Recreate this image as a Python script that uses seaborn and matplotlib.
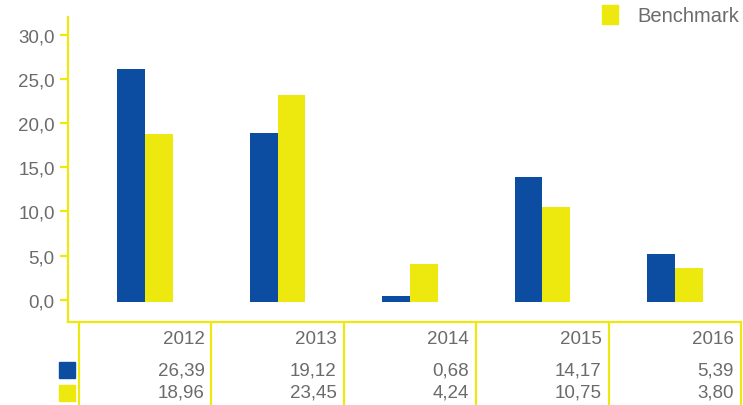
import numpy as np
import pandas as pd
import matplotlib
matplotlib.use("Agg")
import matplotlib.pyplot as plt
import matplotlib.patches as mpatches
import matplotlib.transforms as mtransforms
from matplotlib.ticker import FuncFormatter
import seaborn as sns

# Data
years = ["2012", "2013", "2014", "2015", "2016"]
fund = [26.39, 19.12, 0.68, 14.17, 5.39]
benchmark = [18.96, 23.45, 4.24, 10.75, 3.80]
seriesNames = ["Fondo", "Benchmark"]
yTicks = [0, 5, 10, 15, 20, 25, 30]

BLUE = "#0c4da2"
YELLOW = "#ede80e"
GRAY = "#6b6b6b"
FS = 13.5

sns.set_style("white")
plt.rcParams["font.family"] = ["Liberation Sans", "DejaVu Sans"]

df = pd.DataFrame({
    "year": years * 2,
    "value": fund + benchmark,
    "series": [seriesNames[0]] * len(years) + [seriesNames[1]] * len(years),
})

W, H = 743, 406
fig = plt.figure(figsize=(W / 100, H / 100), dpi=100)
ax = fig.add_axes([68 / W, 1 - 323 / H, (741 - 68) / W, (323 - 18) / H])

sns.barplot(data=df, x="year", y="value", hue="series",
            palette=[BLUE, YELLOW], width=0.42, errorbar=None,
            saturation=1, bottom=-0.22, linewidth=0, legend=False, ax=ax)

ax.set_xlim(-0.583, 4.5)
ax.set_ylim(-2.5, 32)
ax.set_yticks(yTicks)
ax.yaxis.set_major_formatter(FuncFormatter(lambda v, p: f"{v:.1f}".replace(".", ",")))
ax.set_xticks([])
ax.set_xlabel("")
ax.set_ylabel("")

for side in ["top", "right"]:
    ax.spines[side].set_visible(False)
for side in ["left", "bottom"]:
    ax.spines[side].set_color(YELLOW)
    ax.spines[side].set_linewidth(1.6)
ax.tick_params(axis="y", left=True, length=6, width=1.6, color=YELLOW,
               labelsize=FS, labelcolor=GRAY, pad=3.5)

# legend (only the benchmark entry is visible)
handle = mpatches.Patch(color=YELLOW)
fig.legend([handle], [seriesNames[1]], loc="upper right",
           bbox_to_anchor=(1.02, 1.03), frameon=False, fontsize=14.5,
           handlelength=0.8, handleheight=1.1, handletextpad=1.0,
           labelcolor=GRAY)

# table under the chart
blend = mtransforms.blended_transform_factory(ax.transData, fig.transFigure)
for i in range(len(years) + 1):
    ax.add_line(plt.Line2D([i - 0.5, i - 0.5], [0, 1 - 323 / H], transform=blend,
                           color=YELLOW, lw=1.6, clip_on=False))

rowY = [1 - 339 / H, 1 - 371 / H, 1 - 393 / H]
for i, yr in enumerate(years):
    xr = i + 0.5 - 7 / 132.4
    ax.text(xr, rowY[0], yr, transform=blend, ha="right", va="center",
            fontsize=FS, color=GRAY)
    ax.text(xr, rowY[1], f"{fund[i]:.2f}".replace(".", ","), transform=blend,
            ha="right", va="center", fontsize=FS, color=GRAY)
    ax.text(xr, rowY[2], f"{benchmark[i]:.2f}".replace(".", ","), transform=blend,
            ha="right", va="center", fontsize=FS, color=GRAY)

for yTop, col in [(363, BLUE), (386, YELLOW)]:
    fig.patches.append(mpatches.Rectangle((59 / W, 1 - (yTop + 16) / H), 16 / W, 16 / H,
                                          transform=fig.transFigure, color=col))

fig.savefig("out.png", dpi=100)
